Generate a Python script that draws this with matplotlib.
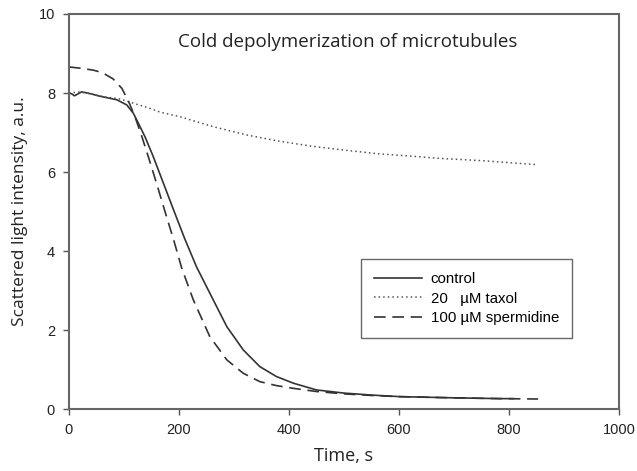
import matplotlib
matplotlib.use("Agg")
import matplotlib.pyplot as plt

# ---- data ----
control_t = [0, 5, 10, 23, 40, 56, 87, 105, 117, 126, 138, 153, 170, 190, 210, 232,
             256, 287, 317, 347, 377, 408, 450, 500, 550, 602, 700, 784, 808]
control_y = [8.0, 7.98, 7.93, 8.03, 7.98, 7.92, 7.83, 7.70, 7.49, 7.24, 6.9, 6.4,
             5.78, 5.05, 4.33, 3.6, 2.94, 2.09, 1.5, 1.08, 0.83, 0.66, 0.49, 0.41,
             0.36, 0.32, 0.29, 0.27, 0.27]

taxol_t = [0, 20, 40, 62, 93, 120, 150, 165, 202, 238, 262, 323, 383, 444, 505,
           565, 626, 671, 750, 850]
taxol_y = [8.0, 8.03, 7.98, 7.91, 7.85, 7.73, 7.6, 7.52, 7.4, 7.25, 7.15, 6.94,
           6.78, 6.65, 6.55, 6.46, 6.40, 6.35, 6.29, 6.19]

sperm_t = [0, 20, 44, 60, 80, 96, 108, 120, 132, 144, 160, 175, 190, 205, 226, 256,
           287, 317, 347, 377, 408, 450, 500, 550, 602, 700, 784, 853]
sperm_y = [8.66, 8.63, 8.58, 8.52, 8.36, 8.12, 7.8, 7.4, 6.92, 6.4, 5.68, 4.98,
           4.3, 3.57, 2.77, 1.84, 1.25, 0.91, 0.70, 0.6, 0.53, 0.45, 0.39, 0.35,
           0.32, 0.29, 0.27, 0.26]

labels = ["control", "20   \u00b5M taxol", "100 \u00b5M spermidine"]
title = "Cold depolymerization of microtubules"
xticks = [0, 200, 400, 600, 800, 1000]
yticks = [0, 2, 4, 6, 8, 10]

# ---- figure ----
fig = plt.figure(figsize=(6.37, 4.71), dpi=100)
ax = fig.add_axes([0.1083, 0.131, 0.8634, 0.8393])

lc = "#333333"
ax.plot(control_t, control_y, color=lc, lw=1.2, ls="-", label=labels[0])
ax.plot(taxol_t, taxol_y, color="#555555", lw=1.1, ls=(0, (1, 2)), label=labels[1])
ax.plot(sperm_t, sperm_y, color=lc, lw=1.2, ls=(0, (7, 4)), label=labels[2])

ax.set_xlim(0, 1000)
ax.set_ylim(0, 10)
ax.set_xticks(xticks)
ax.set_yticks(yticks)

for lab in ax.get_xticklabels() + ax.get_yticklabels():
    lab.set_fontfamily("Liberation Sans")
    lab.set_fontsize(10.5)
    lab.set_color("#222222")

ax.tick_params(direction="out", length=4, width=1.0, color="#555555",
               top=False, right=False, pad=6)
for s in ax.spines.values():
    s.set_color("#666666")
    s.set_linewidth(1.5)

ax.set_xlabel("Time, s", fontfamily="Open Sans", fontsize=13, color="#222222", labelpad=7)
ax.set_ylabel("Scattered light intensity, a.u.", fontfamily="Open Sans", fontsize=12.5,
              color="#222222", labelpad=8)

ax.text(507, 9.3, title, ha="center", va="center", fontfamily="Open Sans",
        fontsize=13.5, color="#222222")

leg = ax.legend(loc="upper left", bbox_to_anchor=(0.531, 0.380), frameon=True,
                fancybox=False, shadow=False, handlelength=3.2,
                prop={"family": "Liberation Sans", "size": 10.8},
                labelspacing=0.38, borderpad=0.85, handletextpad=0.6,
                borderaxespad=0.0)
leg.get_frame().set_edgecolor("#444444")
leg.get_frame().set_linewidth(1.0)

fig.savefig("out.png", dpi=100)
